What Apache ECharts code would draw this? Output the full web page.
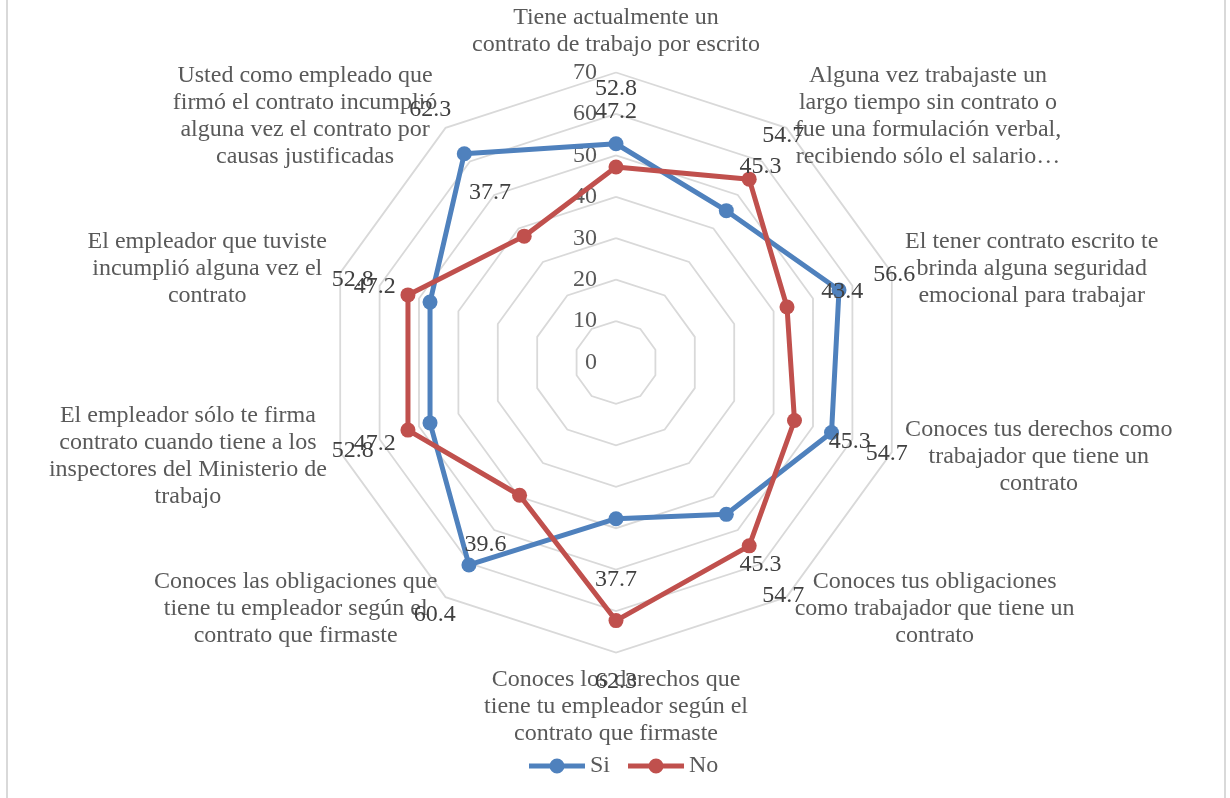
<!DOCTYPE html>
<html>
<head>
<meta charset="utf-8">
<script src="https://cdn.jsdelivr.net/npm/echarts@6/dist/echarts.min.js"></script>
<style>
	html, body { margin: 0; padding: 0; background: #fff; }
	#chart { width: 1230px; height: 798px; }
</style>
</head>
<body>
<div id="chart"></div>
<script>
// indicator names, clockwise from the top
var indicatorNames = [
	'Tiene actualmente un\ncontrato de trabajo por escrito',
	'Alguna vez trabajaste un\nlargo tiempo sin contrato o\nfue una formulación verbal,\nrecibiendo sólo el salario…',
	'El tener contrato escrito te\nbrinda alguna seguridad\nemocional para trabajar',
	'Conoces tus derechos como\ntrabajador que tiene un\ncontrato',
	'Conoces tus obligaciones\ncomo trabajador que tiene un\ncontrato',
	'Conoces los derechos que\ntiene tu empleador según el\ncontrato que firmaste',
	'Conoces las obligaciones que\ntiene tu empleador según el\ncontrato que firmaste',
	'El empleador sólo te firma\ncontrato cuando tiene a los\ninspectores del Ministerio de\ntrabajo',
	'El empleador que tuviste\nincumplió alguna vez el\ncontrato',
	'Usted como empleado que\nfirmó el contrato incumplió\nalguna vez el contrato por\ncausas justificadas'
];
var siValues = [52.8, 45.3, 56.6, 54.7, 45.3, 37.7, 60.4, 47.2, 47.2, 62.3];
var noValues = [47.2, 54.7, 43.4, 45.3, 54.7, 62.3, 39.6, 52.8, 52.8, 37.7];
var seriesNames = ['Si', 'No'];
var axisMin = 0;
var axisMax = 70;
var axisSplit = 7;
var labelOffset = 14; // data labels sit further out along each axis

var FONT = '"Liberation Serif", "Times New Roman", serif';
var colors = ['#4F81BD', '#C0504D'];

// echarts draws radar axes counter-clockwise, so flip the order
var order = indicatorNames.map(function (n, i) {
	return (indicatorNames.length - i) % indicatorNames.length;
});
function reorder(arr) {
	return order.map(function (k) { return arr[k]; });
}

var indicators = reorder(indicatorNames).map(function (name, i) {
	var ind = { name: name, min: axisMin, max: axisMax };
	if (i === 0) {
		ind.axisLabel = { show: true };
	}
	return ind;
});

function labelSeries(values, name) {
	return {
		type: 'radar',
		name: name,
		silent: true,
		symbol: 'circle',
		symbolSize: 1,
		itemStyle: { color: 'rgba(0,0,0,0)' },
		lineStyle: { opacity: 0, width: 0 },
		label: {
			show: true,
			position: 'inside',
			offset: [0, 3],
			opacity: 1,
			color: '#404040',
			fontSize: 24,
			fontFamily: FONT,
			formatter: function (p) {
				var v = Array.isArray(p.value) ? p.value[0] : p.value;
				return (v - labelOffset).toFixed(1);
			}
		},
		data: [{
			name: name,
			value: reorder(values.map(function (v) { return v + labelOffset; }))
		}]
	};
}

function lineSeries(values, idx) {
	return {
		type: 'radar',
		name: seriesNames[idx],
		symbol: 'circle',
		symbolSize: 15,
		itemStyle: { color: colors[idx] },
		lineStyle: { color: colors[idx], width: 5 },
		data: [{ name: seriesNames[idx], value: reorder(values) }]
	};
}

var chart = echarts.init(document.getElementById('chart'));

chart.setOption({
	animation: false,
	color: colors,
	graphic: [{
		type: 'rect',
		shape: { x: 7, y: -20, width: 1218, height: 840 },
		style: { fill: 'none', stroke: '#d9d9d9', lineWidth: 2 },
		silent: true
	}],
	legend: {
		data: seriesNames,
		left: 524,
		top: 749,
		itemWidth: 56,
		itemHeight: 15,
		itemGap: 18,
		icon: 'path://M0,5h56v5h-56z M20.5,7.5a7.5,7.5 0 1,1 15,0a7.5,7.5 0 1,1 -15,0z',
		textStyle: { fontSize: 24, fontFamily: FONT, color: '#595959' }
	},
	radar: {
		center: [616, 362.5],
		radius: 290,
		shape: 'polygon',
		splitNumber: axisSplit,
		indicator: indicators,
		nameGap: 14,
		axisName: {
			color: '#595959',
			fontSize: 24,
			fontFamily: FONT,
			formatter: function (name) {
				return name.split('\n').map(function (l) {
					return '{c|' + l + '}';
				}).join('\n');
			},
			rich: {
				c: { align: 'center', fontSize: 24, lineHeight: 27, fontFamily: FONT, color: '#595959' }
			}
		},
		axisLine: { show: false },
		axisTick: { show: false },
		axisLabel: {
			show: false,
			color: '#595959',
			fontSize: 24,
			fontFamily: FONT,
			margin: 19
		},
		splitLine: { lineStyle: { color: '#d9d9d9', width: 1.8 } },
		splitArea: { show: false }
	},
	series: [
		lineSeries(siValues, 0),
		lineSeries(noValues, 1),
		labelSeries(siValues, 'SiLabel'),
		labelSeries(noValues, 'NoLabel')
	]
});
</script>
</body>
</html>
